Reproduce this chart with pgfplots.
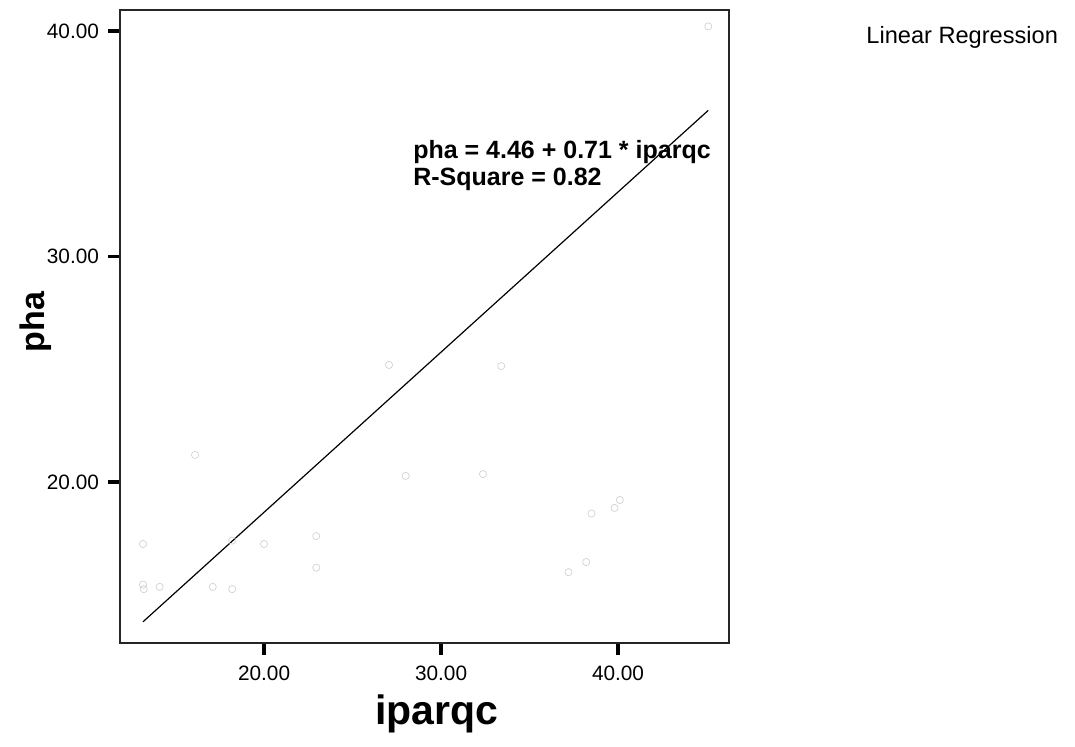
\documentclass[border=0pt]{standalone}
\usepackage{pgfplots}
\pgfplotsset{compat=1.18}
\usepackage{fontspec}
\setmainfont{Liberation Sans}

\begin{document}
\begin{tikzpicture}
% overall canvas
\path (0,0) rectangle (537.5pt,373.5pt);

\begin{axis}[
  at={(60pt,52pt)}, anchor=south west,
  width=304.5pt, height=316.5pt, scale only axis,
  xmin=11.86, xmax=46.27,
  ymin=12.86, ymax=40.93,
  axis line style={black!85, line width=0.55pt},
  xtick={20,30,40}, ytick={20,30,40},
  tick align=outside,
  major tick length=6pt,
  tick style={black, line width=1.6pt},
  xtick pos=bottom, ytick pos=left,
  /pgf/number format/assume math mode=true,
  /pgf/number format/fixed,
  /pgf/number format/fixed zerofill,
  /pgf/number format/precision=2,
  ticklabel style={font=\fontsize{10.4}{12}\selectfont},
  xticklabel style={yshift=-2pt},
  yticklabel style={xshift=-1pt},
  clip=false,
]
% observations
\addplot[only marks, mark=o, mark size=1.8pt,
  mark options={draw=gray!35, line width=0.35pt}] coordinates {
  (13.16,17.25) (13.16,15.45) (13.20,15.25) (14.10,15.35)
  (16.10,21.20) (17.10,15.35) (18.20,17.40) (18.20,15.25)
  (20.00,17.25) (22.95,17.60) (22.95,16.20) (27.06,25.19)
  (28.00,20.27) (32.37,20.35) (33.40,25.14) (37.20,16.00)
  (38.20,16.45) (38.50,18.60) (39.80,18.85) (40.10,19.20)
  (45.10,40.20)
};
% fitted line pha = 4.46 + 0.71 * iparqc
\addplot[black, line width=0.6pt] coordinates {
  (13.16,13.80) (45.10,36.48)
};
\node[anchor=west, font=\fontsize{12.5}{15}\selectfont\bfseries, inner sep=0pt]
  at (axis cs:28.41,34.65) {pha = 4.46 + 0.71 * iparqc};
\node[anchor=west, font=\fontsize{12.5}{15}\selectfont\bfseries, inner sep=0pt]
  at (axis cs:28.41,33.41) {R-Square = 0.82};
\end{axis}

% axis titles
\node[rotate=90, font=\fontsize{17}{20}\selectfont\bfseries, inner sep=0pt]
  at (18pt,212.5pt) {pha};
\node[font=\fontsize{20.5}{24}\selectfont\bfseries, inner sep=0pt]
  at (218.5pt,16.5pt) {iparqc};

% legend caption
\node[anchor=west, font=\fontsize{11.8}{14}\selectfont, inner sep=0pt]
  at (433pt,355pt) {Linear Regression};
\end{tikzpicture}
\end{document}
